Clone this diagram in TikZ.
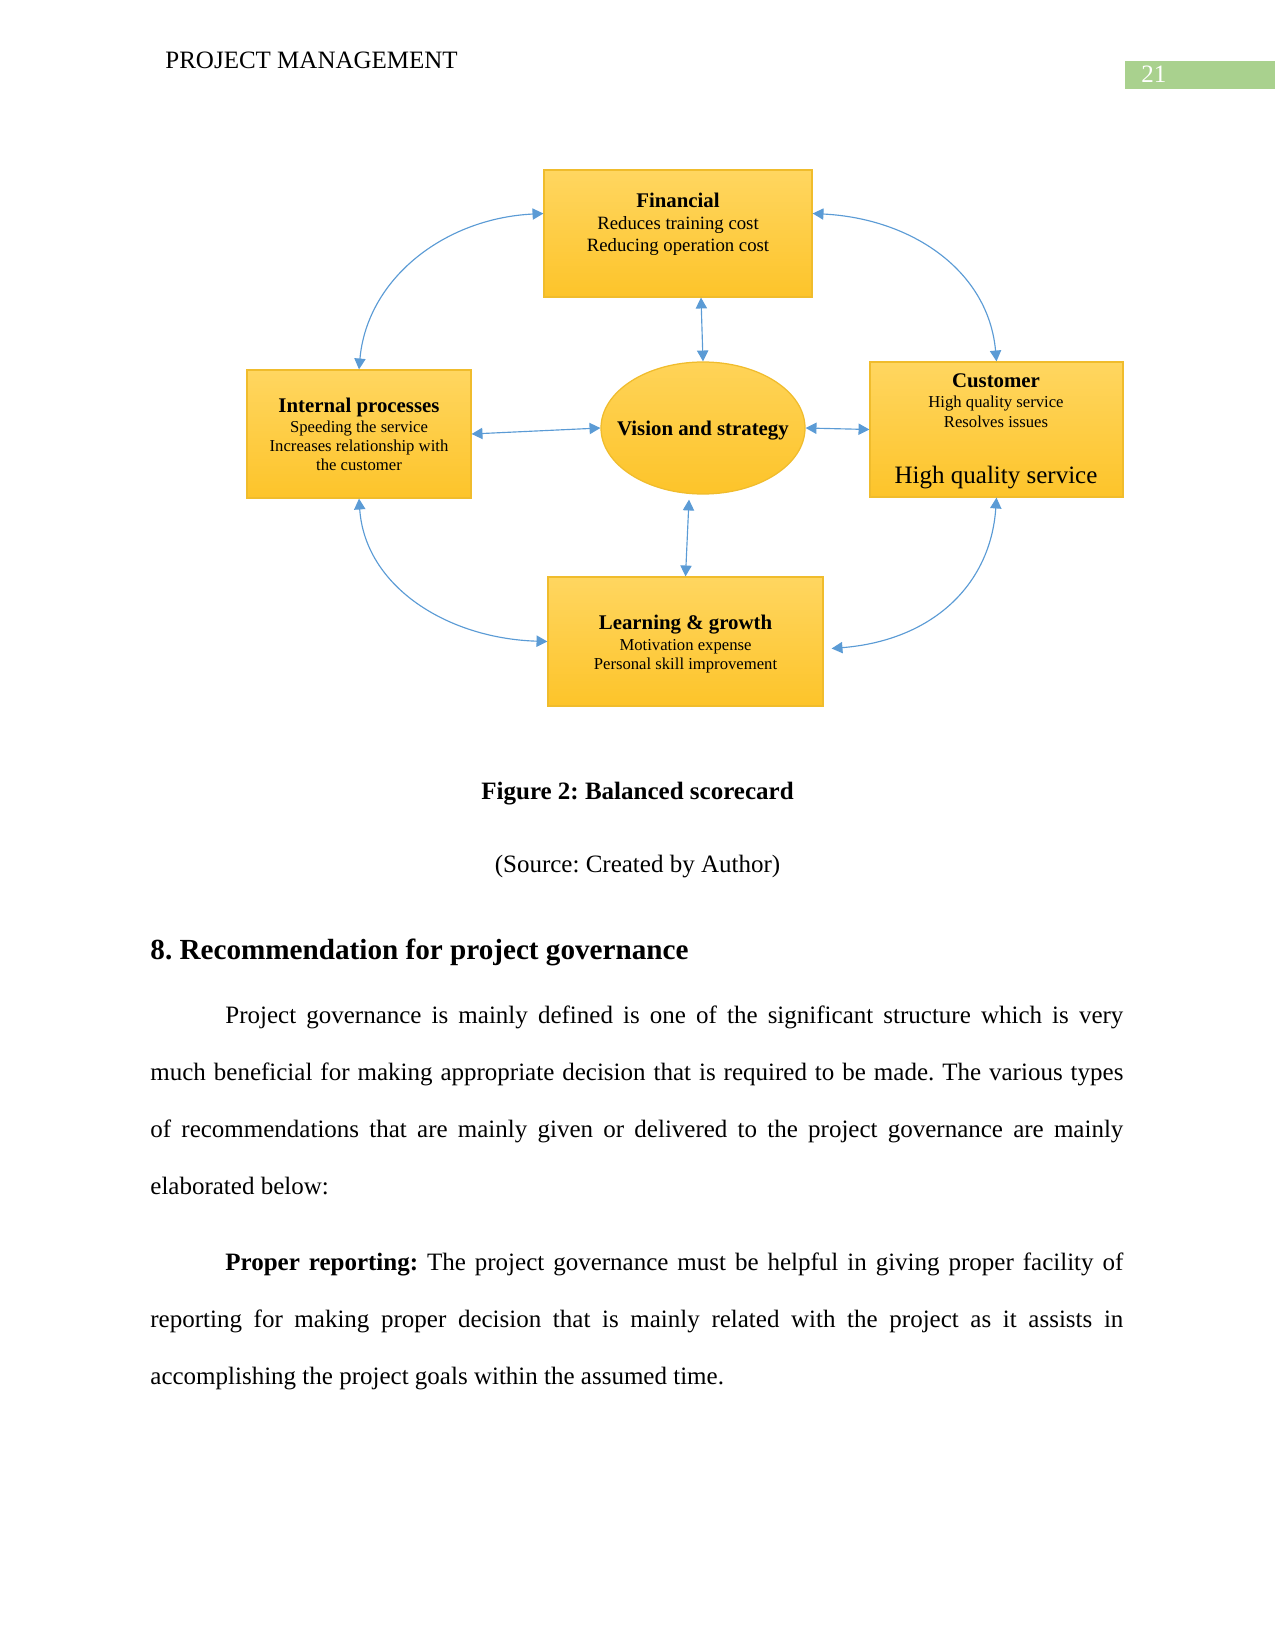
\documentclass[tikz,border=0pt]{standalone}
\usepackage{fontspec}
\setmainfont{Liberation Serif}
\usetikzlibrary{arrows.meta,shapes.geometric,calc}
\definecolor{linkblue}{RGB}{91,155,213}
\definecolor{goldtop}{RGB}{255,214,96}
\definecolor{goldbot}{RGB}{253,196,42}
\definecolor{goldedge}{RGB}{240,188,44}
\definecolor{pagegreen}{RGB}{169,209,142}
\frenchspacing

\begin{document}
\begin{tikzpicture}[
    x=0.48pt, y=-0.48pt,
    card/.style={
        rectangle, draw=goldedge, line width=0.6pt,
        top color=goldtop, bottom color=goldbot, inner sep=0pt
    },
    hub/.style={
        ellipse, draw=goldedge, line width=0.6pt,
        top color=goldtop!85!goldbot, bottom color=goldbot, inner sep=0pt,
        minimum width=204*0.48pt, minimum height=132*0.48pt
    },
    cardtext/.style={   % text block inside a card, anchored on last baseline
        anchor=base, align=center, inner sep=0pt
    },
    link/.style={
        draw=linkblue, line width=0.55pt,
        {Triangle[length=5.2pt,width=5.4pt]}-{Triangle[length=5.2pt,width=5.4pt]}
    },
    para/.style={
        anchor=base west, inner sep=0pt, text width=467pt, align=justify,
        font=\fontsize{12}{27.5}\selectfont
    },
]

\useasboundingbox (0,0) rectangle (1275,1650);

%% ===================== PAGE HEADER =====================
\node[anchor=base west, inner sep=0pt, font=\fontsize{12}{14}\selectfont]
  (header) at (165,69) {PROJECT MANAGEMENT};
\fill[pagegreen] (1125,61) rectangle (1275,89);
\node[anchor=base west, inner sep=0pt, text=white, font=\fontsize{12}{14}\selectfont]
  (pagenum) at (1141,83) {21};

%% ===================== SCORECARD BOXES =====================
\node[card, minimum width=268*0.48pt, minimum height=127*0.48pt] (fin)   at (678,233.5) {};
\node[card, minimum width=224*0.48pt, minimum height=128*0.48pt] (intp)  at (359,434)   {};
\node[card, minimum width=253*0.48pt, minimum height=135*0.48pt] (cust)  at (996.5,429.5) {};
\node[card, minimum width=275*0.48pt, minimum height=129*0.48pt] (learn) at (685.5,641.5) {};
\node[hub] (vis) at (703,428) {};

%% box texts (y = baseline of the last line)
\node[cardtext, font=\fontsize{9}{10.56}\selectfont] (fintxt) at (678,252)
  {{\fontsize{10}{12}\selectfont\bfseries Financial}\\
   Reduces training cost\\ Reducing operation cost};

\node[cardtext, font=\fontsize{8}{9.12}\selectfont] (intptxt) at (359,471)
  {{\fontsize{10}{12}\selectfont\bfseries Internal processes}\\[0.5pt]
   Speeding the service\\ Increases relationship with\\ the customer};

\node[cardtext, font=\fontsize{8}{9.6}\selectfont] (custtxt) at (996,428)
  {{\fontsize{10}{12}\selectfont\bfseries Customer}\\
   High quality service\\ Resolves issues};
\node[cardtext, font=\fontsize{12}{14}\selectfont] (custbig) at (996,483)
  {High quality service};

\node[cardtext, font=\fontsize{8}{9.12}\selectfont] (learntxt) at (685.5,669)
  {{\fontsize{10}{12}\selectfont\bfseries Learning \& growth}\\[0.9pt]
   Motivation expense\\ Personal skill improvement};

\node[cardtext, font=\fontsize{10}{12}\selectfont\bfseries] (vistxt) at (703,436)
  {Vision and strategy};

%% ===================== LINKS =====================
% spokes to the hub
\draw[link] ($(fin.south)+(23,0)$) -- (vis.north);
\draw[link] (intp.east) -- (vis.west);
\draw[link] (vis.east) -- (cust.west);
\draw[link] ($(vis.south)+(-14,5)$) -- (learn.north);

% outer ring
\draw[link] (intp.north) .. controls +(8,-90) and +(-100,5) .. ($(fin.west)+(0,-20)$);
\draw[link] ($(fin.east)+(0,-20)$) .. controls +(100,5) and +(-8,-90) .. (cust.north);
\draw[link] (intp.south) .. controls +(6,88) and +(-100,-3) .. (learn.west);
\draw[link] (cust.south) .. controls +(-6,88) and +(100,-8) .. ($(learn.east)+(8,7)$);

%% ===================== CAPTION =====================
\node[anchor=base, inner sep=0pt, font=\fontsize{12}{14}\selectfont\bfseries]
  (caption) at (637.5,799) {Figure 2: Balanced scorecard};
\node[anchor=base, inner sep=0pt, font=\fontsize{12}{14}\selectfont]
  (source) at (637.5,872) {(Source: Created by Author)};

%% ===================== SECTION TEXT =====================
\node[anchor=base west, inner sep=0pt, font=\fontsize{14}{16}\selectfont\bfseries]
  (sechead) at (150,959) {8. Recommendation for project governance};

\node[para] (para1) at (150,1023)
  {\noindent\hspace*{36pt}Project governance is mainly defined is one of the significant structure which is very\linebreak
   much beneficial for making appropriate decision that is required to be made. The various types\linebreak
   of recommendations that are mainly given or delivered to the project governance are mainly\linebreak
   elaborated below:};

\node[para] (para2) at (150,1270)
  {\noindent\hspace*{36pt}\textbf{Proper reporting:} The project governance must be helpful in giving proper facility of\linebreak
   reporting for making proper decision that is mainly related with the project as it assists in\linebreak
   accomplishing the project goals within the assumed time.};

\end{tikzpicture}
\end{document}
